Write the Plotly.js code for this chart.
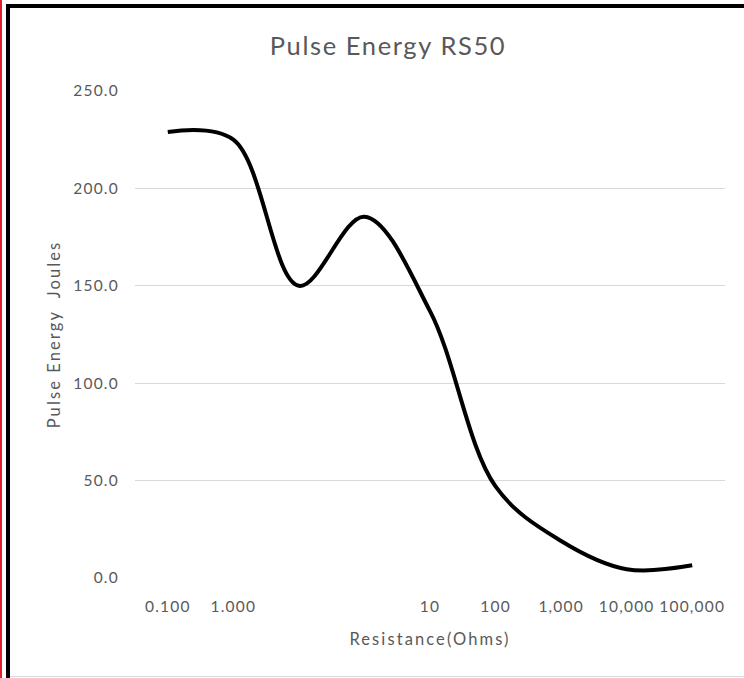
<!DOCTYPE html>
<html>
<head>
<meta charset="utf-8">
<script src="https://cdn.plot.ly/plotly-3.0.1.min.js"></script>
<style>
  html, body { margin: 0; padding: 0; background: #ffffff; }
  #wrap { position: relative; width: 744px; height: 678px; overflow: hidden; }
  #chart { position: absolute; left: 0; top: 0; width: 744px; height: 678px; }
  .edge { position: absolute; pointer-events: none; }
  #chart .xtick text, #chart .ytick text { letter-spacing: 1.2px; }
  #chart .gtitle { letter-spacing: 1.6px; }
  #chart .xtitle, #chart .ytitle { letter-spacing: 2.1px; }
</style>
</head>
<body>
<div id="wrap">
  <div id="chart"></div>
  <div class="edge" style="left:0;top:0;width:2px;height:678px;background:#e0202a;"></div>
  <div class="edge" style="left:6px;top:4px;width:4px;height:674px;background:#000;"></div>
  <div class="edge" style="left:6px;top:4px;width:738px;height:4px;background:#000;"></div>
  <div class="edge" style="left:10px;top:676px;width:734px;height:1px;background:#d9d9d9;"></div>
</div>
<script>
// Category index positions and their tick labels (two categories are unlabeled)
const categoryIndex = [0, 1, 2, 3, 4, 5, 6, 7, 8];
const tickLabels = ["0.100", "1.000", "", "", "10", "100", "1,000", "10,000", "100,000"];
// Pulse energy in Joules
const pulseEnergy = [229, 225, 150, 185.5, 137, 47, 19, 4.5, 6.5];
const yTicks = [0, 50, 100, 150, 200, 250];
const yTickText = ["0.0", "50.0", "100.0", "150.0", "200.0", "250.0"];

const textColor = "#595959";
const fontFamily = "Lato, 'Open Sans', sans-serif";

const trace = {
  x: categoryIndex,
  y: pulseEnergy,
  type: "scatter",
  mode: "lines",
  line: { color: "#000000", width: 4, shape: "spline", smoothing: 1 },
  hoverinfo: "skip"
};

const layout = {
  width: 744,
  height: 678,
  margin: { l: 135, r: 19, t: 91, b: 100 },
  paper_bgcolor: "#ffffff",
  plot_bgcolor: "#ffffff",
  showlegend: false,
  font: { family: fontFamily, color: textColor, size: 15 },
  title: {
    text: "Pulse Energy RS50",
    font: { family: fontFamily, size: 25.5, color: textColor },
    x: 388 / 744, xanchor: "center", xref: "container",
    y: 1 - 46 / 678, yanchor: "middle", yref: "container"
  },
  xaxis: {
    range: [-0.5, 8.5],
    tickmode: "array",
    tickvals: categoryIndex,
    ticktext: tickLabels,
    showgrid: false,
    zeroline: false,
    showline: false,
    ticks: "outside",
    ticklen: 14,
    tickcolor: "rgba(0,0,0,0)",
    tickfont: { family: fontFamily, size: 15.5, color: textColor },
    title: {
      text: "Resistance(Ohms)",
      font: { family: fontFamily, size: 16.5, color: textColor },
      standoff: 19
    },
    automargin: false,
    fixedrange: true
  },
  yaxis: {
    range: [0, 250],
    tickmode: "array",
    tickvals: yTicks,
    ticktext: yTickText,
    showgrid: true,
    gridcolor: "#d9d9d9",
    gridwidth: 1,
    zeroline: false,
    showline: false,
    ticks: "outside",
    ticklen: 12,
    tickcolor: "rgba(0,0,0,0)",
    tickfont: { family: fontFamily, size: 15.5, color: textColor },
    title: {
      text: "Pulse Energy  Joules",
      font: { family: fontFamily, size: 16.5, color: textColor },
      standoff: 14
    },
    automargin: false,
    fixedrange: true
  }
};

Plotly.newPlot("chart", [trace], layout, { displayModeBar: false, staticPlot: true });
</script>
</body>
</html>
